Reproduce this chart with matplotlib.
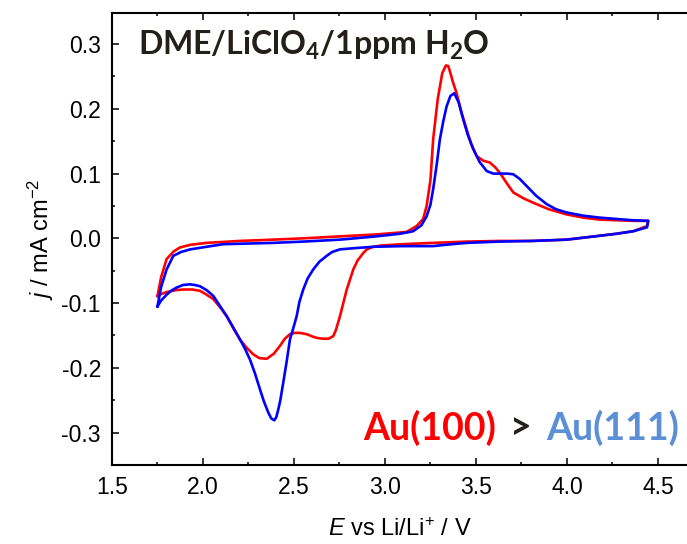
import numpy as np
import matplotlib
matplotlib.use("Agg")
import matplotlib.pyplot as plt
from matplotlib.ticker import MultipleLocator

# Au(100) - red
e_red_up = [1.75, 1.77, 1.80, 1.84, 1.874, 1.93, 2.02, 2.2, 2.385, 2.55, 2.75, 2.95, 3.08, 3.12, 3.174,
            3.21, 3.229, 3.25, 3.265, 3.29, 3.315, 3.335, 3.348, 3.36, 3.375, 3.393, 3.42, 3.449,
            3.475, 3.504, 3.54, 3.577, 3.605, 3.632, 3.67, 3.705, 3.76, 3.815, 3.9, 3.998, 4.09,
            4.18, 4.27, 4.365, 4.447]
j_red_up = [-0.089, -0.06, -0.032, -0.02, -0.014, -0.01, -0.007, -0.004, -0.002, 0.0, 0.003, 0.006,
            0.009, 0.01, 0.019, 0.03, 0.05, 0.09, 0.153, 0.215, 0.255, 0.267, 0.266, 0.255, 0.24,
            0.225, 0.195, 0.168, 0.145, 0.127, 0.12, 0.117, 0.11, 0.101, 0.085, 0.071, 0.062,
            0.055, 0.045, 0.037, 0.032, 0.029, 0.028, 0.027, 0.027]
e_red_dn = [4.447, 4.44, 4.365, 4.27, 4.18, 4.09, 3.998, 3.81, 3.632, 3.45, 3.265, 3.1, 2.98,
            2.936, 2.9, 2.88, 2.85, 2.826, 2.79, 2.753, 2.73, 2.716, 2.69, 2.66, 2.63, 2.606, 2.57,
            2.533, 2.505, 2.478, 2.45, 2.423, 2.39, 2.35, 2.31, 2.276, 2.24, 2.203, 2.165, 2.13,
            2.09, 2.057, 2.02, 1.984, 1.94, 1.892, 1.85, 1.80, 1.77, 1.75]
j_red_dn = [0.027, 0.019, 0.011, 0.007, 0.004, 0.001, -0.002, -0.004, -0.004, -0.005, -0.007,
            -0.009, -0.011, -0.013, -0.017, -0.023, -0.034, -0.048, -0.079, -0.12, -0.142, -0.151,
            -0.155, -0.155, -0.154, -0.152, -0.148, -0.146, -0.146, -0.148, -0.155, -0.166,
            -0.178, -0.186, -0.185, -0.179, -0.169, -0.156, -0.138, -0.12, -0.105, -0.094,
            -0.087, -0.081, -0.079, -0.079, -0.08, -0.083, -0.086, -0.089]

# Au(111) - blue
e_blu_up = [1.75, 1.77, 1.80, 1.837, 1.88, 1.93, 2.02, 2.11, 2.25, 2.386, 2.55, 2.753, 2.95,
            3.08, 3.12, 3.155, 3.2, 3.229, 3.25, 3.265, 3.285, 3.302, 3.32, 3.339, 3.36, 3.381,
            3.405, 3.43, 3.455, 3.485, 3.52, 3.559, 3.595, 3.632, 3.67, 3.705, 3.74, 3.778,
            3.83, 3.888, 3.94, 3.998, 4.09, 4.18, 4.27, 4.36, 4.447]
j_blu_up = [-0.105, -0.075, -0.048, -0.027, -0.021, -0.017, -0.013, -0.009, -0.008, -0.007,
            -0.005, -0.002, 0.003, 0.007, 0.009, 0.011, 0.02, 0.034, 0.052, 0.076, 0.115,
            0.153, 0.18, 0.204, 0.22, 0.224, 0.21, 0.184, 0.16, 0.138, 0.118, 0.104, 0.1, 0.1,
            0.1, 0.099, 0.092, 0.081, 0.066, 0.053, 0.045, 0.04, 0.035, 0.032, 0.03, 0.028, 0.027]
e_blu_dn = [4.447, 4.44, 4.365, 4.27, 4.18, 4.09, 3.998, 3.81, 3.632, 3.45, 3.33, 3.265, 3.1,
            2.936, 2.84, 2.753, 2.71, 2.68, 2.64, 2.606, 2.575, 2.551, 2.53, 2.515, 2.495, 2.478,
            2.46, 2.441, 2.425, 2.414, 2.403, 2.392, 2.375, 2.359, 2.335, 2.313, 2.285, 2.258,
            2.23, 2.203, 2.165, 2.13, 2.09, 2.057, 2.02, 1.984, 1.955, 1.928, 1.89, 1.855,
            1.825, 1.80, 1.77, 1.75]
j_blu_dn = [0.027, 0.017, 0.011, 0.007, 0.004, 0.001, -0.002, -0.004, -0.005, -0.007, -0.01,
            -0.012, -0.012, -0.013, -0.015, -0.017, -0.021, -0.027, -0.036, -0.048, -0.062,
            -0.079, -0.098, -0.12, -0.14, -0.156, -0.19, -0.223, -0.25, -0.264, -0.276,
            -0.281, -0.278, -0.269, -0.252, -0.233, -0.208, -0.187, -0.17, -0.156, -0.137,
            -0.12, -0.103, -0.089, -0.08, -0.074, -0.072, -0.071, -0.072, -0.076, -0.081,
            -0.087, -0.096, -0.105]

plt.rcParams['font.family'] = ['Liberation Sans', 'DejaVu Sans']
plt.rcParams['mathtext.fontset'] = 'custom'
plt.rcParams['mathtext.rm'] = 'Liberation Sans'
plt.rcParams['mathtext.it'] = 'Liberation Sans:italic'
plt.rcParams['mathtext.bf'] = 'Lato:bold'

fig = plt.figure(figsize=(6.87, 5.44), dpi=100)
ax = fig.add_axes([112 / 687, 79 / 544, 1 - 112 / 687, (465 - 13) / 544])

ax.plot(e_red_up + e_red_dn, j_red_up + j_red_dn, color='#ff0000', lw=1.9, zorder=2)
ax.plot(e_blu_up + e_blu_dn, j_blu_up + j_blu_dn, color='#0000ff', lw=1.9, zorder=3)

ax.set_xlim(1.5, 4.66)
ax.set_ylim(-0.35, 0.348)
ax.xaxis.set_major_locator(MultipleLocator(0.5))
ax.xaxis.set_minor_locator(MultipleLocator(0.25))
ax.yaxis.set_major_locator(MultipleLocator(0.1))
ax.yaxis.set_minor_locator(MultipleLocator(0.05))
ax.xaxis.set_major_formatter(plt.FuncFormatter(lambda v, p: f"{v:.1f}"))
ax.yaxis.set_major_formatter(plt.FuncFormatter(lambda v, p: f"{v:.1f}" if abs(v) > 1e-9 else "0.0"))

ax.spines['right'].set_visible(False)
for s in ['left', 'bottom', 'top']:
    ax.spines[s].set_linewidth(1.5)
ax.tick_params(which='both', direction='in', top=True, right=False, width=1.1, labelsize=16.5)
ax.tick_params(which='major', length=5, pad=8)
ax.tick_params(which='minor', length=2.5)

ax.set_xlabel(r'$\mathit{E}$ vs Li/Li$^{+}$ / V', fontsize=17, labelpad=14)
ax.set_ylabel(r'$\mathit{j}$ / mA cm$^{-2}$', fontsize=17, labelpad=4)

ax.text(0.045, 0.928, r'DME/LiClO$_\mathbf{4}$/1ppm H$_\mathbf{2}$O', transform=ax.transAxes,
        family='Lato', fontweight='bold', fontsize=23, color='#231f1a', va='center', ha='left')

ax.text(0.437, 0.082, 'Au(100)', transform=ax.transAxes, family='Lato', fontweight='bold',
        fontsize=27, color='#ff0000', va='center', ha='left')
ax.text(0.693, 0.082, '>', transform=ax.transAxes, family='Lato', fontweight='bold',
        fontsize=27, color='#231f1a', va='center', ha='left')
ax.text(0.755, 0.082, 'Au(111)', transform=ax.transAxes, family='Lato', fontweight='bold',
        fontsize=27, color='#5b8fd6', va='center', ha='left')

fig.savefig('out.png', dpi=100)
